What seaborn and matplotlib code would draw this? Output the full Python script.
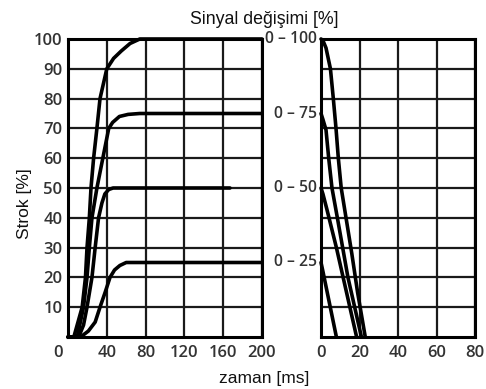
import matplotlib
matplotlib.use("Agg")
import matplotlib.pyplot as plt
import matplotlib.transforms as mtransforms
import seaborn as sns
import pandas as pd

# ---------------- data ----------------
# left panel: stroke [%] vs time [ms] for signal steps 0-100, 0-75, 0-50, 0-25
t_100 = [0, 6, 14.6, 18, 19.6, 22, 23.7, 26.4, 29.8, 33, 40, 47, 55, 64, 74, 200]
s_100 = [0, 0, 10, 20, 30, 40, 50, 60, 70, 80, 90, 93.5, 96, 98.5, 100, 100]
t_75 = [0, 9.5, 16, 19.6, 22, 24.7, 29.8, 35.9, 42, 46, 53, 62, 74, 200]
s_75 = [0, 0, 10, 20, 30, 40, 50, 60, 70, 72, 74, 74.7, 75, 75]
t_50 = [0, 11, 16, 19.6, 24.7, 28, 31.5, 35, 38, 42, 46.5, 167]
s_50 = [0, 0, 4, 10, 20, 30, 40, 45, 48, 49.5, 50, 50]
t_25 = [0, 13, 21, 28, 33, 38.3, 43.3, 48, 53.5, 60, 200]
s_25 = [0, 0, 2, 5, 10, 15, 20, 22.5, 24, 25, 25]

# right panel: falling steps back to 0
rt_100 = [0, 1, 2.6, 4.9, 6.4, 7.8, 9, 10.5, 13, 16, 19, 23]
rs_100 = [100, 99.5, 97, 90, 80, 70, 60, 50, 40, 28, 15, 0]
rt_75 = [0, 1, 2.6, 4, 5.7, 8.5, 14, 21]
rs_75 = [75, 73, 69.5, 60, 50, 40, 20, 0]
rt_50 = [0, 1, 3, 8, 18.5]
rs_50 = [50, 48, 43, 30, 0]
rt_25 = [0, 1, 8]
rs_25 = [25, 22, 0]

left_xticks = [0, 40, 80, 120, 160, 200]
right_xticks = [0, 20, 40, 60, 80]
left_yticks = [10, 20, 30, 40, 50, 60, 70, 80, 90, 100]
right_ylabels_pos = [25, 50, 75, 100]
right_ylabels = ["0 \u2013 25", "0 \u2013 50", "0 \u2013 75", "0 \u2013 100"]

title_txt = "Sinyal değişimi [%]"
xlabel_txt = "zaman [ms]"
ylabel_txt = "Strok [%]"

# ---------------- build frames ----------------
def frame(pairs):
    rows = []
    for name, ts, ss in pairs:
        for t, s in zip(ts, ss):
            rows.append({"t": t, "s": s, "series": name})
    return pd.DataFrame(rows)

left_df = frame([("100", t_100, s_100), ("75", t_75, s_75),
                 ("50", t_50, s_50), ("25", t_25, s_25)])
right_df = frame([("100", rt_100, rs_100), ("75", rt_75, rs_75),
                  ("50", rt_50, rs_50), ("25", rt_25, rs_25)])

sns.set_style("white")
plt.rcParams["font.family"] = ["Liberation Sans", "DejaVu Sans"]

W, H = 486, 389
fig = plt.figure(figsize=(W / 100, H / 100), dpi=100)
axL = fig.add_axes([68 / W, 1 - 337 / H, (262 - 68) / W, (337 - 39) / H])
axR = fig.add_axes([321 / W, 1 - 337 / H, (475 - 321) / W, (337 - 39) / H])

tick_font = dict(family=["Open Sans", "DejaVu Sans"], weight="semibold", size=12)
side_font = dict(family=["Open Sans", "DejaVu Sans"], weight="semibold", size=11.3)
tick_color = "#333333"

for ax, df, xmax, xt in [(axL, left_df, 200, left_xticks), (axR, right_df, 80, right_xticks)]:
    sns.lineplot(data=df, x="t", y="s", units="series", estimator=None, sort=False,
                 color="black", linewidth=2.6, ax=ax, legend=False)
    ax.set_xlim(0, xmax)
    ax.set_ylim(0, 100)
    ax.set_xticks(xt)
    ax.set_yticks(left_yticks)
    ax.grid(True, color="#1a1a1a", linewidth=1.6)
    ax.set_axisbelow(True)
    for sp in ax.spines.values():
        sp.set_visible(True)
        sp.set_color("black")
        sp.set_linewidth(2.2)
    ax.set_xlabel("")
    ax.set_ylabel("")
    ax.tick_params(axis="both", which="both", length=0)
    ax.tick_params(axis="x", pad=6)
    for line in ax.get_lines():
        line.set_clip_on(False)

axL.set_xticklabels([str(v) for v in left_xticks], fontdict=tick_font, color=tick_color)
axL.set_yticklabels([str(v) for v in left_yticks], fontdict=tick_font, color=tick_color)
axL.tick_params(axis="y", pad=4)
# first x label sits slightly left of the axis origin
lbl0 = axL.get_xticklabels()[0]
lbl0.set_transform(lbl0.get_transform() +
                   mtransforms.ScaledTranslation(-10 / 100, 0, fig.dpi_scale_trans))

axR.set_xticklabels([str(v) for v in right_xticks], fontdict=tick_font, color=tick_color)
axR.set_yticklabels([""] * len(left_yticks))
for pos, lab in zip(right_ylabels_pos, right_ylabels):
    axR.annotate(lab, xy=(0, pos), xycoords=axR.get_yaxis_transform(),
                 xytext=(-3, 0), textcoords="offset points", ha="right", va="center",
                 color=tick_color, **side_font)

fig.text(264 / W, 1 - 20 / H, title_txt, ha="center", va="center", fontsize=12.8, color="#111111")
fig.text(264 / W, 1 - 378 / H, xlabel_txt, ha="center", va="center", fontsize=12.5, color="#111111")
fig.text(25 / W, 1 - 204 / H, ylabel_txt, ha="center", va="center", rotation=90,
         fontsize=12.5, color="#111111")

fig.savefig("out.png", dpi=100)
